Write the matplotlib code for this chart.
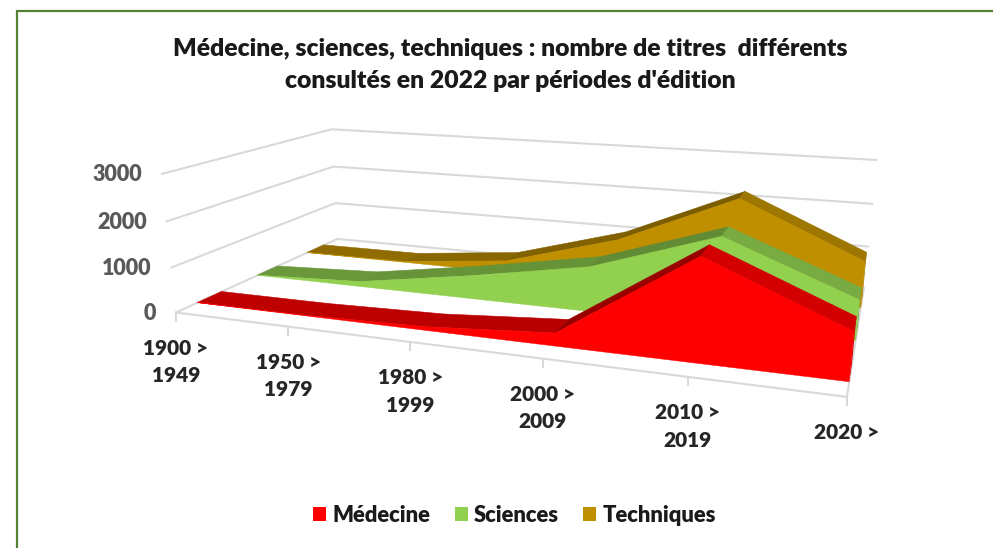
import numpy as np
import matplotlib
matplotlib.use("Agg")
import matplotlib.pyplot as plt
from matplotlib.patches import Patch

plt.rcParams['font.family'] = ['Lato', 'DejaVu Sans']

title = "Médecine, sciences, techniques : nombre de titres  différents\nconsultés en 2022 par périodes d'édition"
categories = ["1900 >\n1949", "1950 >\n1979", "1980 >\n1999", "2000 >\n2009", "2010 >\n2019", "2020 >"]
value_ticks = [0, 1000, 2000, 3000]
medecine = [5, 15, 80, 270, 2070, 950]
sciences = [5, 120, 530, 1000, 1900, 850]
techniques = [5, 20, 290, 1050, 2230, 1040]
series_names = ["Médecine", "Sciences", "Techniques"]
series_colors = ["#FF0000", "#92D050", "#BF8F00"]
series_depths = [(0.107, 0.235), (0.444, 0.570), (0.773, 0.895)]

W, H = 993, 548
fig = plt.figure(figsize=(W / 100, H / 100), dpi=100)
ax = fig.add_axes([0, 0, 1, 1])
ax.set_xlim(0, W)
ax.set_ylim(H, 0)
ax.axis('off')

# camera calibration: box corners (category, depth, value) seen at pixels
world = [(0, 0, 0), (5, 0, 0), (5, 1, 0), (0, 1, 0),
         (0, 0, 3000), (5, 0, 3000), (5, 1, 3000), (0, 1, 3000)]
image = [(176, 312), (847, 396), (864, 288), (337, 240),
         (162, 172), (863, 231), (876, 158), (332, 130)]
A = []
for (c, d, v), (u, w) in zip(world, image):
    X = np.array([c / 5, d, v / 3000, 1.0])
    A.append(np.r_[X, np.zeros(4), -u * X])
    A.append(np.r_[np.zeros(4), X, -w * X])
P = np.linalg.svd(np.array(A))[2][-1].reshape(3, 4)


def proj(c, d, v):
    c, d, v = np.broadcast_arrays(np.asarray(c, float), np.asarray(d, float), np.asarray(v, float))
    X = np.stack([c / 5, d, v / 3000, np.ones_like(c)])
    p = P @ X
    return np.stack([p[0] / p[2], p[1] / p[2]], axis=-1)


GRID = "#D9D9D9"
n = len(categories)
last = n - 1

# gridlines on left and back walls, floor outline
for v in value_ticks:
    ax.plot(*proj([0, 0, last], [0, 1, 1], v).T, color=GRID, lw=1.5, solid_joinstyle='miter', zorder=1)
ax.plot(*proj([0, last, last], [0, 0, 1], 0).T, color=GRID, lw=1.5, zorder=1)

# category ticks on the front edge
for i in range(n):
    a = proj(i, 0, 0)
    ax.plot([a[0], a[0]], [a[1], a[1] + 8], color=GRID, lw=1.5, zorder=1)


def shade(col, dv):
    f = np.interp(dv, [-1200, 0, 100, 1800], [0.83, 0.75, 0.73, 0.60])
    return tuple(f * np.array(matplotlib.colors.to_rgb(col)))


z = 10
xs = np.arange(n)
for vals, col, (d0, d1) in reversed(list(zip([medecine, sciences, techniques], series_colors, series_depths))):
    vals = np.array(vals, float)
    # right end face
    ax.fill(*proj([last, last, last, last], [d0, d1, d1, d0], [0, 0, vals[-1], vals[-1]]).T,
            color=shade(col, -400), lw=0, zorder=z)
    z += 1
    # top ribbon segments
    for i in range(n - 1):
        c = shade(col, vals[i + 1] - vals[i])
        ax.fill(*proj([i, i + 1, i + 1, i], [d0, d0, d1, d1],
                      [vals[i], vals[i + 1], vals[i + 1], vals[i]]).T,
                facecolor=c, edgecolor=c, lw=0.4, zorder=z)
    z += 1
    # front face
    cx = np.r_[xs, xs[::-1]]
    cv = np.r_[vals, np.zeros(n)]
    ax.fill(*proj(cx, d0, cv).T, color=col, lw=0.3, zorder=z)
    z += 1

# value labels
for v in value_ticks:
    x, y = proj(0, 0, v)
    ax.text(x - 20, y + 1, f"{v}", ha='right', va='center', fontsize=15.5, fontweight='heavy', color='#595959')

# category labels
for i, lab in enumerate(categories):
    x, y = proj(i, 0, 0)
    ax.text(x, y + 8 + 18, lab, ha='center', va='top', fontsize=15, fontweight='heavy',
            color='#262626', linespacing=1.55)

ax.text(510, 65, title, ha='center', va='center', fontsize=17.8, fontweight='heavy',
        color='#1A1A1A', linespacing=1.55)

handles = [Patch(facecolor=c, edgecolor='none') for c in series_colors]
leg = ax.legend(handles, series_names, loc='center', bbox_to_anchor=(514.5 / W, 1 - 515 / H), ncol=3, frameon=False,
                handlelength=0.6, handleheight=0.6, handletextpad=0.28, columnspacing=1.1,
                prop={'size': 15.8, 'weight': 'heavy'}, labelcolor='#1A1A1A')

# chart-area frame
BORDER = "#548235"
ax.plot([16.5, 16.5, W], [H, 10.5, 10.5], color=BORDER, lw=1.6, solid_joinstyle='miter', zorder=50)

fig.savefig("out.png", dpi=100)
